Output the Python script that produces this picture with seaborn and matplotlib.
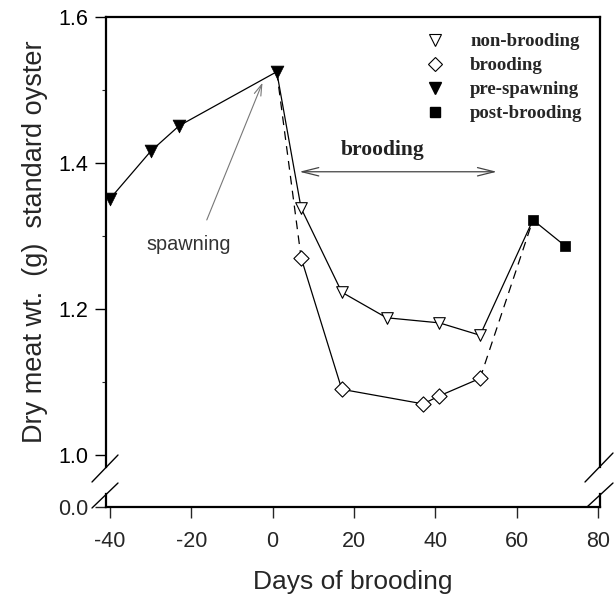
import numpy as np
import pandas as pd
import matplotlib
matplotlib.use("Agg")
import matplotlib.pyplot as plt
import seaborn as sns
from matplotlib.lines import Line2D

# ---------------- data ----------------
pre_days = [-40, -30, -23, 1]
pre_wt = [1.351, 1.416, 1.451, 1.525]
nb_days = [7, 17, 28, 41, 51]
nb_wt = [1.338, 1.223, 1.188, 1.181, 1.164]
br_days = [7, 17, 37, 41, 51]
br_wt = [1.270, 1.090, 1.070, 1.081, 1.105]
post_days = [64, 72]
post_wt = [1.322, 1.286]

x_ticks = [-40, -20, 0, 20, 40, 60, 80]
y_ticks = [1.0, 1.2, 1.4, 1.6]
y_minor = [1.1, 1.3, 1.5]
legend_labels = ["non-brooding", "brooding", "pre-spawning", "post-brooding"]

# ---------------- style ----------------
sns.set_theme(style="ticks")
plt.rcParams["font.family"] = ["Liberation Sans", "DejaVu Sans"]
serif_bold = dict(family=["Liberation Serif", "DejaVu Serif"], weight="bold")

W, H = 615, 598
fig = plt.figure(figsize=(W / 100, H / 100), dpi=100)

L = 106 / W
Wd = (600 - 106) / W
ax = fig.add_axes([L, 1 - 467 / H, Wd, (467 - 17) / H])
axb = fig.add_axes([L, 1 - 507 / H, Wd, (507 - 494) / H])

xlim = (-40.98, 80.49)
ax.set_xlim(*xlim)
axb.set_xlim(*xlim)
ax.set_ylim(1.6 - 450 / 730, 1.6)
axb.set_ylim(0, 13 / 730)

# main solid path: pre-spawning -> non-brooding -> post-brooding
solid = pd.DataFrame({"days": pre_days + nb_days + post_days,
                      "wt": pre_wt + nb_wt + post_wt})
sns.lineplot(data=solid, x="days", y="wt", sort=False, estimator=None,
             color="black", lw=0.9, ax=ax)
brood = pd.DataFrame({"days": br_days, "wt": br_wt})
sns.lineplot(data=brood, x="days", y="wt", sort=False, estimator=None,
             color="black", lw=0.9, ax=ax)
# dashed connectors
sns.lineplot(x=[pre_days[-1], br_days[0]], y=[pre_wt[-1], br_wt[0]], sort=False,
             estimator=None, color="black", lw=0.9, ax=ax, linestyle=(0, (7, 5)))
sns.lineplot(x=[br_days[-1], post_days[0]], y=[br_wt[-1], post_wt[0]], sort=False,
             estimator=None, color="black", lw=0.9, ax=ax, linestyle=(0, (7, 5)))

# markers
sns.scatterplot(x=nb_days, y=nb_wt, marker="v", s=70, facecolor="white",
                edgecolor="black", linewidth=0.8, zorder=3, ax=ax)
sns.scatterplot(x=br_days, y=br_wt, marker="D", s=60, facecolor="white",
                edgecolor="black", linewidth=0.8, zorder=3, ax=ax)
sns.scatterplot(x=pre_days, y=pre_wt, marker="v", s=85, color="black",
                edgecolor="black", linewidth=0.5, zorder=3, ax=ax)
sns.scatterplot(x=post_days, y=post_wt, marker="s", s=60, color="black",
                edgecolor="black", linewidth=0.5, zorder=3, ax=ax)

# annotations
ax.annotate("", xy=(6.6, 1.388), xytext=(55.1, 1.388),
            arrowprops=dict(arrowstyle="<->,head_length=1.2,head_width=0.3",
                            color="#444444", lw=0.9, mutation_scale=10,
                            shrinkA=0, shrinkB=0))
ax.text(27.0, 1.418, "brooding", ha="center", va="center", fontsize=15.5,
        color="#222222", **serif_bold)
ax.annotate("", xy=(-2.5, 1.51), xytext=(-16.2, 1.322),
            arrowprops=dict(arrowstyle="->,head_length=0.8,head_width=0.25",
                            color="#777777", lw=0.8, mutation_scale=10,
                            shrinkA=0, shrinkB=0))
ax.text(-20.7, 1.288, "spawning", ha="center", va="center", fontsize=14.3,
        color="#333333")

# legend
handles = [
    Line2D([], [], ls="none", marker="v", ms=8, mfc="white", mec="black", mew=0.8),
    Line2D([], [], ls="none", marker="D", ms=7, mfc="white", mec="black", mew=0.8),
    Line2D([], [], ls="none", marker="v", ms=9, mfc="black", mec="black"),
    Line2D([], [], ls="none", marker="s", ms=7.5, mfc="black", mec="black"),
]
leg = fig.legend(handles, legend_labels, loc="upper left",
                 bbox_to_anchor=(425.6 / W, 1 - 33 / H), frameon=False,
                 borderpad=0, borderaxespad=0, handlelength=1.0,
                 handletextpad=1.37, labelspacing=0.37,
                 prop=dict(family=["Liberation Serif"], weight="bold", size=13.5))

# axes styling
for a in (ax, axb):
    for s in a.spines.values():
        s.set_linewidth(1.6)
        s.set_color("black")
ax.spines["bottom"].set_visible(False)
axb.spines["top"].set_visible(False)

ax.set_yticks(y_ticks)
ax.set_yticklabels([f"{v:.1f}" for v in y_ticks])
ax.set_yticks(y_minor, minor=True)
ax.tick_params(axis="y", which="major", direction="out", length=8, width=1,
               labelsize=15.5, pad=5, colors="black")
ax.tick_params(axis="y", which="minor", direction="out", length=3, width=0.8)
ax.tick_params(axis="x", which="both", bottom=False, labelbottom=False, top=False)
ax.set_xlabel("")

axb.set_yticks([0])
axb.set_yticklabels(["0.0"])
axb.set_xticks(x_ticks)
axb.set_xticklabels([str(v) for v in x_ticks])
axb.tick_params(axis="y", direction="out", length=8, width=1, labelsize=15.5, pad=5)
axb.tick_params(axis="x", direction="out", length=8, width=1, labelsize=15.5, pad=9)
axb.minorticks_off()

ax.set_ylabel("Dry meat wt.  (g)  standard oyster", fontsize=19.5, labelpad=7)
axb.set_xlabel("Days of brooding", fontsize=19, labelpad=13)

# break marks
def fl(x0, y0, x1, y1):
    fig.add_artist(Line2D([x0 / W, x1 / W], [1 - y0 / H, 1 - y1 / H],
                          transform=fig.transFigure, color="black", lw=1.0))
fl(92, 482, 118, 455)
fl(92, 508, 118, 483)
fl(585, 482, 613, 453)
fl(587, 507, 613, 483)

fig.savefig("out.png", dpi=100)
